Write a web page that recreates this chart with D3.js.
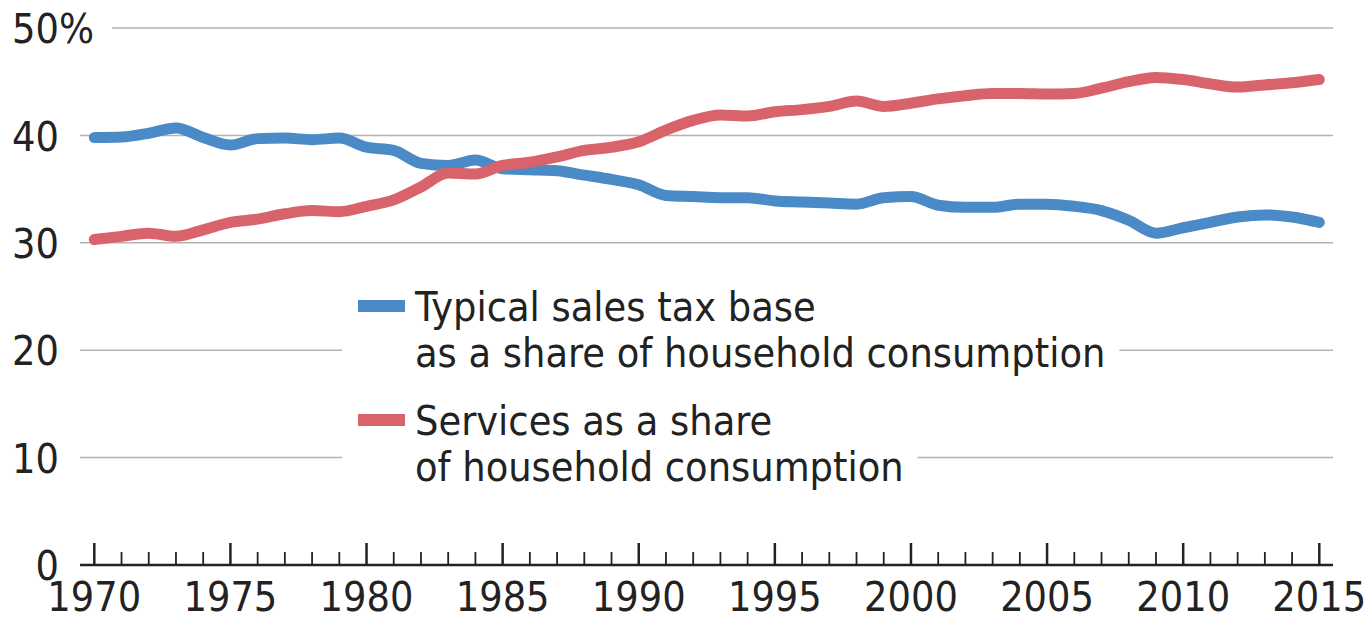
<!DOCTYPE html>
<html>
<head>
<meta charset="utf-8">
<script src="https://cdn.jsdelivr.net/npm/d3@7"></script>
<style>
  body { margin: 0; background: #fff; }
  text { font-family: "Liberation Sans Narrow", "DejaVu Sans Condensed", sans-serif; fill: #222; }
</style>
</head>
<body>
<div id="container"></div>
<script>
// data
const years = d3.range(1970, 2016);
const salesTaxBase = [39.8, 39.85, 40.2, 40.7, 39.8, 39.1, 39.7, 39.75, 39.6, 39.75,
  38.9, 38.6, 37.4, 37.2, 37.7, 36.9, 36.8, 36.7, 36.3, 35.9,
  35.4, 34.4, 34.3, 34.2, 34.2, 33.9, 33.8, 33.7, 33.6, 34.2,
  34.3, 33.5, 33.3, 33.3, 33.6, 33.6, 33.4, 33.0, 32.1, 30.9,
  31.4, 31.9, 32.4, 32.6, 32.4, 31.9];
const servicesShare = [30.3, 30.6, 30.9, 30.6, 31.2, 31.9, 32.2, 32.7, 33.0, 32.9,
  33.4, 34.0, 35.2, 36.5, 36.4, 37.2, 37.5, 38.0, 38.6, 38.9,
  39.4, 40.5, 41.4, 41.9, 41.8, 42.2, 42.4, 42.7, 43.2, 42.7,
  43.0, 43.4, 43.7, 43.9, 43.9, 43.85, 43.9, 44.4, 45.0, 45.4,
  45.2, 44.8, 44.5, 44.7, 44.9, 45.2];
const yTicks = [0, 10, 20, 30, 40, 50];
const xTicks = [1970, 1975, 1980, 1985, 1990, 1995, 2000, 2005, 2010, 2015];
const legendLabels = [
  ["Typical sales tax base", "as a share of household consumption"],
  ["Services as a share", "of household consumption"]
];
const colors = ["#4a8ac6", "#d9636b"];

const width = 1365, height = 618;
const gridLeft = 80, gridRight = 1333;
const fontSize = "41px";

const x = d3.scaleLinear().domain([1970, 2015]).range([94.3, 1319.3]);
const y = d3.scaleLinear().domain([0, 50]).range([565, 28]);

const svg = d3.create("svg").attr("width", width).attr("height", height);

// gridlines
svg.append("g")
  .selectAll("line")
  .data(yTicks.filter(d => d > 0))
  .join("line")
  .attr("x1", d => d === 50 ? 112 : gridLeft)
  .attr("x2", gridRight)
  .attr("y1", d => y(d)).attr("y2", d => y(d))
  .attr("stroke", "#b3b3b3")
  .attr("stroke-width", 1.5);

// y labels
const yAxis = svg.append("g")
  .attr("transform", `translate(59,0)`)
  .call(d3.axisLeft(y).tickValues(yTicks).tickSize(0).tickPadding(0));
yAxis.select(".domain").remove();
yAxis.selectAll("text").style("font-size", fontSize).attr("dy", "0.36em").attr("fill", "#222");
yAxis.selectAll(".tick").filter(d => d === 50)
  .append("text").attr("x", 0).attr("dy", "0.36em")
  .attr("text-anchor", "start").style("font-size", fontSize).attr("fill", "#222")
  .text("%");

// lines
const line = d3.line().x((d, i) => x(years[i])).y(d => y(d)).curve(d3.curveMonotoneX);
[salesTaxBase, servicesShare].forEach((s, k) => {
  svg.append("path")
    .datum(s)
    .attr("fill", "none")
    .attr("stroke", colors[k])
    .attr("stroke-width", 11)
    .attr("stroke-linecap", "round")
    .attr("stroke-linejoin", "round")
    .attr("d", line);
});

// legend (white backing hides gridlines)
const legendY = [321, 435];
legendLabels.forEach((lines, k) => {
  const g = svg.append("g");
  const bg = g.append("rect").attr("fill", "#fff");
  g.append("rect")
    .attr("x", 358).attr("y", legendY[k] - 21)
    .attr("width", 47).attr("height", 12)
    .attr("fill", colors[k]);
  const t = g.append("text").attr("x", 415).attr("y", legendY[k]).style("font-size", fontSize);
  lines.forEach((l, j) => t.append("tspan").attr("x", 415).attr("dy", j ? 46 : 0).text(l));
  g.node().__bg = bg;
  g.node().__t = t;
});

// x axis
const xAxis = svg.append("g").attr("transform", `translate(0,565)`);
xAxis.append("line").attr("x1", gridLeft).attr("x2", gridRight)
  .attr("stroke", "#222").attr("stroke-width", 2.5);
xAxis.selectAll(".minor").data(years).join("line")
  .attr("x1", d => x(d)).attr("x2", d => x(d))
  .attr("y1", 0).attr("y2", d => d % 5 === 0 ? -22 : -13)
  .attr("stroke", "#222").attr("stroke-width", d => d % 5 === 0 ? 2.5 : 1.8);
xAxis.selectAll(".lab").data(xTicks).join("text")
  .attr("x", d => x(d)).attr("y", 46)
  .attr("text-anchor", "middle").style("font-size", fontSize)
  .text(d => d);

container.append(svg.node());

// size legend backings to text
svg.selectAll("g").each(function () {
  if (!this.__t) return;
  const b = this.__t.node().getBBox();
  this.__bg.attr("x", 342).attr("y", b.y - 4).attr("width", b.x + b.width + 14 - 342).attr("height", b.height + 8);
});
</script>
</body>
</html>
